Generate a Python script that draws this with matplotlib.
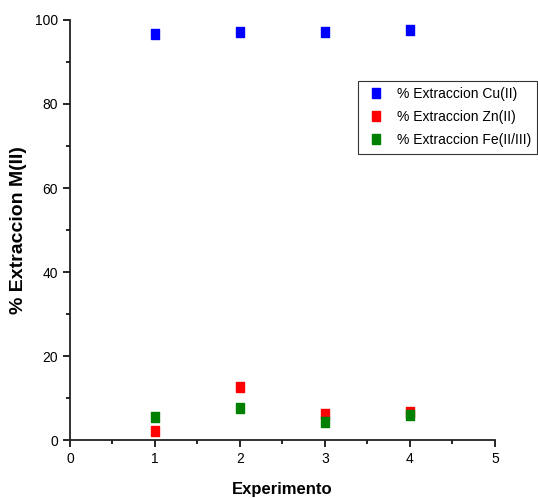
import matplotlib.pyplot as plt
from matplotlib.ticker import MultipleLocator

plt.rcParams['font.family'] = ['Liberation Sans', 'DejaVu Sans']

experimento = [1, 2, 3, 4]
cu = [96.7, 97.1, 97.1, 97.6]
zn = [2.2, 12.7, 6.2, 6.8]
fe = [5.6, 7.6, 4.4, 5.9]

# rectangulo un poco mas alto que ancho
rect = [(-0.75, -1), (0.75, -1), (0.75, 1), (-0.75, 1), (-0.75, -1)]

fig = plt.figure(figsize=(5.38, 4.99), dpi=100)
ax = fig.add_axes([0.130, 0.118, 0.790, 0.842])

ax.plot(experimento, cu, linestyle='none', marker=rect, color='#0000ff', markersize=7, label='% Extraccion Cu(II)')
ax.plot(experimento, zn, linestyle='none', marker=rect, color='#ff0000', markersize=7, label='% Extraccion Zn(II)')
ax.plot(experimento, fe, linestyle='none', marker=rect, color='#008000', markersize=7, label='% Extraccion Fe(II/III)')

ax.set_xlim(0, 5)
ax.set_ylim(0, 100)
ax.xaxis.set_major_locator(MultipleLocator(1))
ax.xaxis.set_minor_locator(MultipleLocator(0.5))
ax.yaxis.set_major_locator(MultipleLocator(20))
ax.yaxis.set_minor_locator(MultipleLocator(10))
ax.tick_params(which='both', direction='out', width=1.2, labelsize=10)
ax.tick_params(which='major', length=5)
ax.tick_params(which='minor', length=3)
for s in ['top', 'right']:
    ax.spines[s].set_visible(False)
for s in ['left', 'bottom']:
    ax.spines[s].set_linewidth(1.3)
    ax.spines[s].set_color('#222222')

ax.set_xlabel('Experimento', fontsize=12, fontweight='bold')
ax.xaxis.set_label_coords(0.5, -0.10)
ax.set_ylabel('% Extraccion M(II)', fontsize=14, fontweight='bold')
ax.yaxis.set_label_coords(-0.102, 0.5)

leg = ax.legend(loc='upper right', bbox_to_anchor=(544 / 538, 1 - 74 / 499),
                bbox_transform=fig.transFigure, fancybox=False, frameon=True,
                edgecolor='black', fontsize=10, handletextpad=0.6, borderpad=0.45,
                labelspacing=0.65, handlelength=1.7)
leg.get_frame().set_linewidth(0.8)

fig.savefig('out.png', dpi=100)
